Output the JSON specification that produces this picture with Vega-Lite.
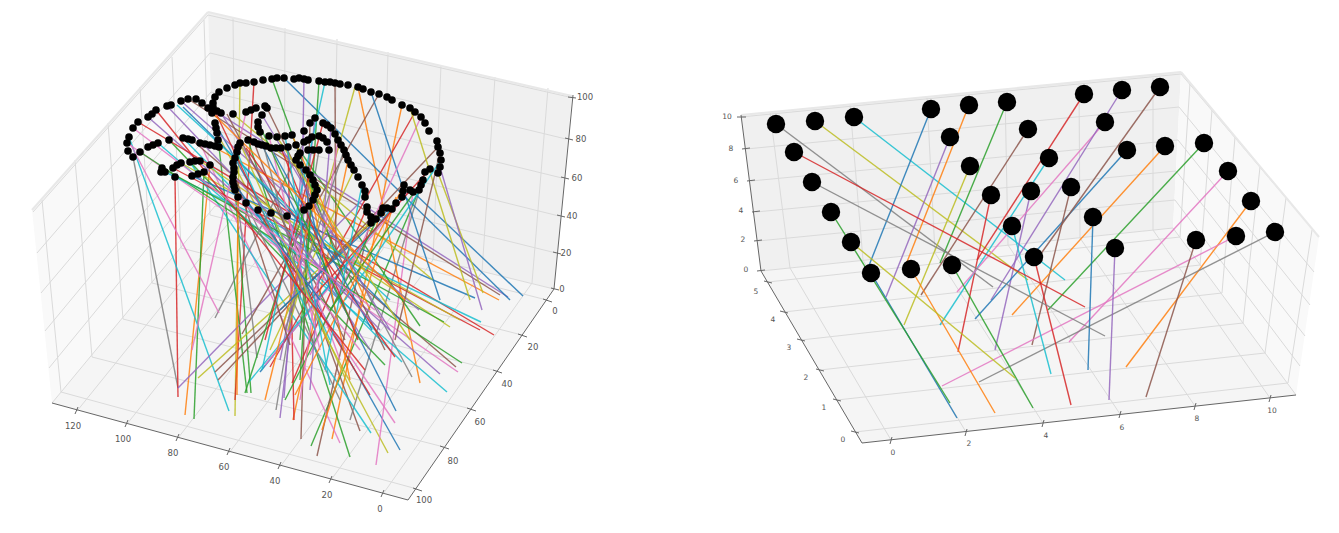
{"$schema":"https://vega.github.io/schema/vega-lite/v6.json","width":1339,"height":533,"autosize":{"type":"fit","contains":"padding"},"padding":0,"background":"white","config":{"view":{"stroke":null}},
"datasets":{
"panes":[
{"p":"L1","s":"a","x":32,"y":210,"y2":210},{"p":"L1","s":"a","x":52,"y":187.5,"y2":403},{"p":"L1","s":"a","x":208,"y":12,"y2":214.5},{"p":"L1","s":"a","x":215,"y":206,"y2":206},
{"p":"L2","s":"b","x":208,"y":12,"y2":12},{"p":"L2","s":"b","x":215,"y":13.6,"y2":206},{"p":"L2","s":"b","x":554,"y":91.8,"y2":289},{"p":"L2","s":"b","x":572,"y":96,"y2":96},
{"p":"L3","s":"c","x":52,"y":403,"y2":403},{"p":"L3","s":"c","x":215,"y":206,"y2":447.4},{"p":"L3","s":"c","x":408,"y":253.2,"y2":500},{"p":"L3","s":"c","x":554,"y":289,"y2":289},
{"p":"R2","s":"b","x":741,"y":115,"y2":115},{"p":"R2","s":"b","x":761,"y":113,"y2":271},{"p":"R2","s":"b","x":1173,"y":72.8,"y2":228},{"p":"R2","s":"b","x":1181,"y":72,"y2":72},
{"p":"R3","s":"c","x":761,"y":271,"y2":271},{"p":"R3","s":"c","x":862,"y":260.5,"y2":443},{"p":"R3","s":"c","x":1173,"y":228,"y2":408.6},{"p":"R3","s":"c","x":1296,"y":395,"y2":395},
{"p":"R1","s":"a","x":1173,"y":228,"y2":228},{"p":"R1","s":"a","x":1181,"y":72,"y2":238.9},{"p":"R1","s":"a","x":1296,"y":209.5,"y2":395},{"p":"R1","s":"a","x":1319,"y":237,"y2":237}
],
"grid":[
{"x":208,"y":15,"xe":569,"ye":97},{"x":210,"y":53,"xe":566,"ye":139},{"x":211,"y":92,"xe":562,"ye":178},{"x":212,"y":130,"xe":559,"ye":216},{"x":213,"y":168,"xe":556,"ye":253},{"x":215,"y":206,"xe":554,"ye":289},
{"x":208,"y":15,"xe":33,"ye":212},{"x":210,"y":53,"xe":37,"ye":253},{"x":211,"y":92,"xe":41,"ye":293},{"x":212,"y":130,"xe":45,"ye":331},{"x":213,"y":168,"xe":49,"ye":368},{"x":215,"y":206,"xe":52,"ye":403},
{"x":42,"y":200,"xe":61,"ye":392},{"x":75,"y":160,"xe":92,"ye":357},{"x":108,"y":123,"xe":123,"ye":319},{"x":140,"y":87,"xe":152,"ye":283},{"x":172,"y":57,"xe":181,"ye":248},{"x":204,"y":20,"xe":210,"ye":215},
{"x":233,"y":17,"xe":235,"ye":215},{"x":285,"y":28,"xe":284,"ye":226},{"x":337,"y":39,"xe":333,"ye":238},{"x":388,"y":52,"xe":383,"ye":249},{"x":441,"y":65,"xe":433,"ye":260},{"x":495,"y":77,"xe":482,"ye":272},{"x":548,"y":88,"xe":532,"ye":283},
{"x":235,"y":215,"xe":77,"ye":411},{"x":284,"y":226,"xe":127,"ye":424},{"x":333,"y":238,"xe":178,"ye":438},{"x":383,"y":249,"xe":229,"ye":453},{"x":433,"y":260,"xe":280,"ye":467},{"x":482,"y":272,"xe":331,"ye":480},{"x":532,"y":283,"xe":383,"ye":494},
{"x":210,"y":215,"xe":547,"ye":300},{"x":181,"y":248,"xe":522,"ye":335},{"x":152,"y":283,"xe":497,"ye":371},{"x":123,"y":319,"xe":471,"ye":409},{"x":92,"y":357,"xe":444,"ye":447},{"x":61,"y":392,"xe":417,"ye":489},
{"x":741,"y":117,"xe":1181,"ye":74},{"x":746,"y":149,"xe":1179,"ye":107},{"x":751,"y":181,"xe":1178,"ye":140},{"x":756,"y":212,"xe":1176,"ye":171},{"x":758,"y":241,"xe":1175,"ye":200},{"x":761,"y":271,"xe":1173,"ye":228},
{"x":770,"y":112,"xe":790,"ye":268},{"x":850,"y":105,"xe":863,"ye":260},{"x":927,"y":98,"xe":935,"ye":253},{"x":1005,"y":92,"xe":1008,"ye":245},{"x":1079,"y":85,"xe":1080,"ye":238},{"x":1153,"y":78,"xe":1153,"ye":230},
{"x":790,"y":268,"xe":891,"ye":440},{"x":863,"y":260,"xe":966,"ye":432},{"x":935,"y":253,"xe":1043,"ye":423},{"x":1008,"y":245,"xe":1120,"ye":414},{"x":1080,"y":238,"xe":1195,"ye":406},{"x":1153,"y":230,"xe":1270,"ye":398},
{"x":855,"y":432,"xe":1288,"ye":383},{"x":837,"y":400,"xe":1265,"ye":353},{"x":820,"y":370,"xe":1243,"ye":323},{"x":801,"y":340,"xe":1222,"ye":293},{"x":784,"y":312,"xe":1200,"ye":265},{"x":768,"y":282,"xe":1180,"ye":237},
{"x":1288,"y":383,"xe":1312,"ye":230},{"x":1265,"y":353,"xe":1286,"ye":198},{"x":1243,"y":323,"xe":1260,"ye":167},{"x":1222,"y":293,"xe":1235,"ye":137},{"x":1200,"y":265,"xe":1212,"ye":110},{"x":1180,"y":237,"xe":1190,"ye":83},
{"x":1181,"y":74,"xe":1319,"ye":237},{"x":1179,"y":107,"xe":1314,"ye":272},{"x":1178,"y":140,"xe":1310,"ye":305},{"x":1176,"y":171,"xe":1305,"ye":336},{"x":1175,"y":200,"xe":1300,"ye":366},{"x":1173,"y":228,"xe":1296,"ye":395}
],
"edges":[{"x":208,"y":12,"xe":572,"ye":96},{"x":208,"y":12,"xe":32,"ye":210},{"x":741,"y":115,"xe":1181,"ye":72},{"x":1181,"y":72,"xe":1319,"ye":237}],
"axes":[
{"x":52,"y":403,"xe":408,"ye":500},{"x":408,"y":500,"xe":554,"ye":289},{"x":573,"y":95,"xe":554,"ye":289},
{"x":568,"y":97,"xe":576,"ye":98},{"x":565,"y":138,"xe":573,"ye":140},{"x":561,"y":177,"xe":569,"ye":179},{"x":557,"y":215,"xe":565,"ye":217},{"x":553,"y":252,"xe":561,"ye":254},{"x":551,"y":288,"xe":559,"ye":290},
{"x":78,"y":407,"xe":75,"ye":414},{"x":128,"y":420,"xe":125,"ye":427},{"x":179,"y":434,"xe":176,"ye":441},{"x":230,"y":448,"xe":227,"ye":455},{"x":281,"y":462,"xe":278,"ye":469},{"x":332,"y":476,"xe":329,"ye":483},{"x":384,"y":490,"xe":381,"ye":497},
{"x":543,"y":299,"xe":552,"ye":302},{"x":518,"y":334,"xe":527,"ye":337},{"x":493,"y":370,"xe":502,"ye":373},{"x":467,"y":408,"xe":476,"ye":411},{"x":440,"y":446,"xe":449,"ye":449},{"x":413,"y":488,"xe":422,"ye":491},
{"x":741,"y":115,"xe":761,"ye":271},{"x":761,"y":271,"xe":862,"ye":443},{"x":862,"y":443,"xe":1296,"ye":395},
{"x":737,"y":117,"xe":746,"ye":117},{"x":742,"y":149,"xe":750,"ye":148},{"x":747,"y":181,"xe":755,"ye":180},{"x":752,"y":212,"xe":760,"ye":211},{"x":754,"y":241,"xe":762,"ye":240},{"x":757,"y":271,"xe":765,"ye":270},
{"x":764,"y":281,"xe":772,"ye":283},{"x":780,"y":311,"xe":788,"ye":313},{"x":797,"y":339,"xe":805,"ye":341},{"x":816,"y":369,"xe":824,"ye":371},{"x":833,"y":399,"xe":841,"ye":401},{"x":851,"y":431,"xe":859,"ye":433},
{"x":892,"y":437,"xe":890,"ye":444},{"x":967,"y":429,"xe":965,"ye":436},{"x":1044,"y":420,"xe":1042,"ye":427},{"x":1121,"y":411,"xe":1119,"ye":418},{"x":1196,"y":403,"xe":1194,"ye":410},{"x":1271,"y":395,"xe":1269,"ye":402}
],
"labelsL":[{"x":585,"y":97,"t":"100"},{"x":581,"y":139,"t":"80"},{"x":577,"y":178,"t":"60"},{"x":572,"y":216,"t":"40"},{"x":566,"y":253,"t":"20"},{"x":562,"y":289,"t":"0"},{"x":555,"y":311,"t":"0"},{"x":533,"y":347,"t":"20"},{"x":507,"y":384,"t":"40"},{"x":480,"y":422,"t":"60"},{"x":453,"y":461,"t":"80"},{"x":424,"y":500,"t":"100"},{"x":73,"y":426,"t":"120"},{"x":123,"y":439,"t":"100"},{"x":173,"y":453,"t":"80"},{"x":224,"y":467,"t":"60"},{"x":275,"y":481,"t":"40"},{"x":327,"y":495,"t":"20"},{"x":380,"y":509,"t":"0"}],
"labelsR":[{"x":727,"y":117,"t":"10"},{"x":731,"y":149,"t":"8"},{"x":736,"y":181,"t":"6"},{"x":741,"y":211,"t":"4"},{"x":743,"y":240,"t":"2"},{"x":746,"y":270,"t":"0"},{"x":756,"y":292,"t":"5"},{"x":773,"y":320,"t":"4"},{"x":789,"y":348,"t":"3"},{"x":806,"y":378,"t":"2"},{"x":824,"y":408,"t":"1"},{"x":843,"y":440,"t":"0"},{"x":893,"y":453,"t":"0"},{"x":969,"y":444,"t":"2"},{"x":1046,"y":436,"t":"4"},{"x":1122,"y":428,"t":"6"},{"x":1197,"y":419,"t":"8"},{"x":1272,"y":411,"t":"10"}],
"lines":[
{"s":"C7","x":133,"y":157,"xe":178,"ye":388},{"s":"C3","x":175,"y":177,"xe":178,"ye":397},{"s":"C1","x":210,"y":165,"xe":185,"ye":415},{"s":"C2","x":204,"y":172,"xe":194,"ye":419},{"s":"C9","x":129,"y":137,"xe":229,"ye":411},{"s":"C8","x":240,"y":83,"xe":235,"ye":416},{"s":"C3","x":254,"y":82,"xe":235,"ye":400},{"s":"C2","x":219,"y":147,"xe":247,"ye":393},{"s":"C2","x":233,"y":163,"xe":251,"ye":393},{"s":"C7","x":319,"y":150,"xe":276,"ye":410},{"s":"C4","x":315,"y":118,"xe":280,"ye":418},{"s":"C1","x":348,"y":160,"xe":293,"ye":420},{"s":"C3","x":288,"y":147,"xe":294,"ye":420},{"s":"C4","x":304,"y":131,"xe":284,"ye":398},{"s":"C5","x":310,"y":123,"xe":301,"ye":439},{"s":"C2","x":419,"y":190,"xe":311,"ye":446},{"s":"C5","x":371,"y":217,"xe":317,"ye":456},{"s":"C1","x":402,"y":105,"xe":332,"ye":439},{"s":"C6","x":200,"y":143,"xe":340,"ye":443},{"s":"C2","x":248,"y":140,"xe":350,"ye":457},{"s":"C5","x":254,"y":142,"xe":360,"ye":431},{"s":"C7","x":425,"y":172,"xe":350,"ye":420},{"s":"C9","x":190,"y":162,"xe":371,"ye":433},{"s":"C8","x":217,"y":133,"xe":388,"ye":453},{"s":"C0","x":215,"y":123,"xe":400,"ye":450},{"s":"C6","x":413,"y":192,"xe":376,"ye":465},{"s":"C6","x":233,"y":182,"xe":395,"ye":423},{"s":"C0","x":262,"y":145,"xe":396,"ye":411},{"s":"C1","x":358,"y":87,"xe":420,"ye":383},{"s":"C7","x":296,"y":160,"xe":412,"ye":377},{"s":"C9","x":158,"y":143,"xe":447,"ye":392},{"s":"C6","x":127,"y":143,"xe":458,"ye":372},{"s":"C4","x":148,"y":117,"xe":440,"ye":374},{"s":"C5","x":192,"y":140,"xe":456,"ye":367},{"s":"C2","x":140,"y":152,"xe":462,"ye":363},{"s":"C9","x":183,"y":138,"xe":402,"ye":362},{"s":"C2","x":169,"y":140,"xe":385,"ye":365},{"s":"C3","x":138,"y":122,"xe":494,"ye":335},{"s":"C3","x":173,"y":168,"xe":480,"ye":330},{"s":"C9","x":165,"y":172,"xe":481,"ye":322},{"s":"C8","x":181,"y":163,"xe":460,"ye":320},{"s":"C8","x":200,"y":161,"xe":450,"ye":327},{"s":"C2","x":162,"y":168,"xe":444,"ye":322},{"s":"C2","x":296,"y":145,"xe":420,"ye":326},{"s":"C4","x":181,"y":101,"xe":419,"ye":310},{"s":"C0","x":192,"y":176,"xe":475,"ye":298},{"s":"C1","x":210,"y":145,"xe":499,"ye":300},{"s":"C4","x":196,"y":99,"xe":508,"ye":297},{"s":"C5","x":188,"y":99,"xe":500,"ye":295},{"s":"C0","x":413,"y":192,"xe":523,"ye":296},{"s":"C0","x":284,"y":78,"xe":510,"ye":300},{"s":"C8","x":438,"y":173,"xe":483,"ye":293},{"s":"C8","x":233,"y":114,"xe":433,"ye":280},{"s":"C5","x":371,"y":223,"xe":215,"ye":372},{"s":"C4","x":365,"y":197,"xe":178,"ye":388},{"s":"C0","x":396,"y":203,"xe":260,"ye":372},{"s":"C9","x":392,"y":209,"xe":248,"ye":383},{"s":"C8","x":381,"y":213,"xe":198,"ye":378},{"s":"C6","x":246,"y":112,"xe":192,"ye":350},{"s":"C7","x":304,"y":142,"xe":215,"ye":318},{"s":"C6","x":131,"y":145,"xe":219,"ye":313},{"s":"C5","x":379,"y":94,"xe":242,"ye":334},{"s":"C7","x":234,"y":172,"xe":257,"ye":358},{"s":"C6","x":410,"y":190,"xe":265,"ye":365},{"s":"C3","x":367,"y":207,"xe":292,"ye":383},{"s":"C5","x":267,"y":108,"xe":385,"ye":350},{"s":"C3","x":246,"y":148,"xe":395,"ye":357},{"s":"C3","x":415,"y":112,"xe":270,"ye":367},{"s":"C5","x":438,"y":147,"xe":218,"ye":380},{"s":"C4","x":440,"y":167,"xe":482,"ye":310},{"s":"C8","x":355,"y":87,"xe":288,"ye":330},{"s":"C0","x":371,"y":92,"xe":440,"ye":300},{"s":"C6","x":421,"y":117,"xe":310,"ye":355},{"s":"C8","x":410,"y":108,"xe":470,"ye":300},{"s":"C2","x":272,"y":79,"xe":345,"ye":280},{"s":"C4","x":304,"y":79,"xe":300,"ye":300},{"s":"C2","x":319,"y":81,"xe":300,"ye":380},{"s":"C9","x":325,"y":82,"xe":262,"ye":370},{"s":"C5","x":335,"y":83,"xe":336,"ye":260},{"s":"C1","x":238,"y":197,"xe":237,"ye":395},{"s":"C4","x":221,"y":113,"xe":370,"ye":350},{"s":"C5","x":227,"y":114,"xe":345,"ye":340},{"s":"C0","x":183,"y":107,"xe":400,"ye":320},{"s":"C9","x":177,"y":105,"xe":390,"ye":300},{"s":"C3","x":258,"y":210,"xe":370,"ye":395},{"s":"C9","x":271,"y":213,"xe":330,"ye":340},{"s":"C2","x":304,"y":210,"xe":245,"ye":393},{"s":"C4","x":313,"y":200,"xe":280,"ye":360},{"s":"C1","x":317,"y":190,"xe":265,"ye":400},{"s":"C7","x":246,"y":203,"xe":340,"ye":400},{"s":"C6","x":287,"y":216,"xe":340,"ye":360},{"s":"C2","x":383,"y":208,"xe":285,"ye":400},{"s":"C1","x":396,"y":197,"xe":322,"ye":430},
{"s":"C0","x":300,"y":165,"xe":340,"ye":330},{"s":"C1","x":306,"y":170,"xe":350,"ye":380},{"s":"C2","x":313,"y":180,"xe":300,"ye":340},{"s":"C3","x":323,"y":123,"xe":265,"ye":340},{"s":"C4","x":331,"y":128,"xe":310,"ye":390},{"s":"C6","x":338,"y":140,"xe":300,"ye":400},{"s":"C7","x":344,"y":150,"xe":285,"ye":330},{"s":"C8","x":354,"y":170,"xe":270,"ye":350},{"s":"C9","x":362,"y":185,"xe":325,"ye":370},{"s":"C0","x":402,"y":197,"xe":280,"ye":310},{"s":"C1","x":404,"y":185,"xe":295,"ye":395},{"s":"C2","x":423,"y":180,"xe":330,"ye":310},{"s":"C3","x":430,"y":169,"xe":310,"ye":300},{"s":"C5","x":440,"y":153,"xe":395,"ye":340},{"s":"C9","x":441,"y":160,"xe":345,"ye":300},{"s":"C0","x":271,"y":148,"xe":372,"ye":330},{"s":"C3","x":281,"y":148,"xe":358,"ye":340},{"s":"C8","x":277,"y":137,"xe":410,"ye":340},{"s":"C9","x":285,"y":136,"xe":330,"ye":385},{"s":"C1","x":292,"y":135,"xe":370,"ye":310},{"s":"C6","x":269,"y":136,"xe":320,"ye":350},{"s":"C4","x":262,"y":115,"xe":390,"ye":330},{"s":"C2","x":258,"y":122,"xe":350,"ye":320},{"s":"C7","x":260,"y":132,"xe":310,"ye":320},{"s":"C3","x":213,"y":107,"xe":300,"ye":290},{"s":"C9","x":237,"y":152,"xe":315,"ye":330},{"s":"C5","x":234,"y":172,"xe":290,"ye":345},{"s":"C6","x":235,"y":190,"xe":360,"ye":350},{"s":"C0","x":233,"y":182,"xe":320,"ye":300},{"s":"C8","x":240,"y":143,"xe":355,"ye":400},{"s":"C3","x":156,"y":110,"xe":365,"ye":370},{"s":"C4","x":167,"y":106,"xe":380,"ye":330},{"s":"C1","x":202,"y":103,"xe":405,"ye":300},{"s":"C6","x":133,"y":128,"xe":375,"ye":310},
{"s":"C7","x":776,"y":124,"xe":993,"ye":287},{"s":"C8","x":815,"y":121,"xe":1028,"ye":280},{"s":"C9","x":854,"y":117,"xe":1065,"ye":280},{"s":"C0","x":931,"y":109,"xe":868,"ye":268},{"s":"C1","x":969,"y":105,"xe":905,"ye":267},{"s":"C4","x":950,"y":137,"xe":886,"ye":297},{"s":"C2","x":1007,"y":102,"xe":940,"ye":263},{"s":"C8","x":970,"y":166,"xe":904,"ye":325},{"s":"C3","x":1084,"y":94,"xe":977,"ye":260},{"s":"C3","x":991,"y":195,"xe":958,"ye":352},{"s":"C9","x":1049,"y":158,"xe":940,"ye":325},{"s":"C4","x":1031,"y":191,"xe":995,"ye":350},{"s":"C5","x":1028,"y":129,"xe":921,"ye":295},{"s":"C6","x":1105,"y":122,"xe":957,"ye":292},{"s":"C4","x":1122,"y":90,"xe":991,"ye":300},{"s":"C0","x":1127,"y":150,"xe":975,"ye":319},{"s":"C5","x":1160,"y":87,"xe":1040,"ye":255},{"s":"C5","x":1071,"y":187,"xe":1032,"ye":345},{"s":"C1","x":1165,"y":146,"xe":1012,"ye":315},{"s":"C2","x":1204,"y":143,"xe":1048,"ye":310},{"s":"C6","x":1228,"y":171,"xe":1069,"ye":342},{"s":"C1","x":1251,"y":201,"xe":1126,"ye":367},{"s":"C7","x":1275,"y":232,"xe":979,"ye":382},{"s":"C6","x":1236,"y":236,"xe":942,"ye":386},{"s":"C5","x":1196,"y":240,"xe":1146,"ye":397},{"s":"C4","x":1115,"y":248,"xe":1109,"ye":400},{"s":"C0","x":1093,"y":217,"xe":1088,"ye":370},{"s":"C3","x":1034,"y":257,"xe":1071,"ye":405},{"s":"C9","x":1012,"y":226,"xe":1051,"ye":374},{"s":"C2","x":952,"y":265,"xe":1033,"ye":408},{"s":"C1","x":911,"y":269,"xe":995,"ye":413},{"s":"C0","x":871,"y":273,"xe":957,"ye":418},{"s":"C8","x":851,"y":242,"xe":1015,"ye":378},{"s":"C2","x":831,"y":212,"xe":950,"ye":403},{"s":"C3","x":794,"y":152,"xe":1085,"ye":307},{"s":"C7","x":812,"y":182,"xe":1105,"ye":336}
],
"ptsL":[{"x":213,"y":103},{"x":215,"y":97},{"x":219,"y":92},{"x":227,"y":88},{"x":235,"y":85},{"x":240,"y":83},{"x":246,"y":83},{"x":254,"y":82},{"x":263,"y":80},{"x":272,"y":79},{"x":277,"y":78},{"x":284,"y":78},{"x":294,"y":79},{"x":299,"y":78},{"x":304,"y":79},{"x":308,"y":80},{"x":319,"y":81},{"x":325,"y":82},{"x":330,"y":82},{"x":335,"y":83},{"x":340,"y":84},{"x":348,"y":85},{"x":358,"y":87},{"x":363,"y":89},{"x":371,"y":92},{"x":379,"y":94},{"x":387,"y":97},{"x":392,"y":100},{"x":402,"y":105},{"x":410,"y":108},{"x":415,"y":112},{"x":421,"y":117},{"x":425,"y":123},{"x":429,"y":131},{"x":437,"y":141},{"x":438,"y":147},{"x":440,"y":153},{"x":441,"y":160},{"x":440,"y":167},{"x":438,"y":173},{"x":430,"y":169},{"x":425,"y":172},{"x":423,"y":180},{"x":421,"y":185},{"x":419,"y":190},{"x":413,"y":192},{"x":410,"y":190},{"x":404,"y":185},{"x":403,"y":191},{"x":402,"y":197},{"x":396,"y":203},{"x":392,"y":209},{"x":387,"y":208},{"x":383,"y":208},{"x":381,"y":213},{"x":376,"y":219},{"x":371,"y":223},{"x":371,"y":217},{"x":367,"y":212},{"x":367,"y":207},{"x":365,"y":197},{"x":365,"y":191},{"x":362,"y":185},{"x":358,"y":177},{"x":354,"y":170},{"x":351,"y":165},{"x":348,"y":160},{"x":346,"y":155},{"x":344,"y":150},{"x":341,"y":145},{"x":338,"y":140},{"x":335,"y":134},{"x":331,"y":128},{"x":327,"y":125},{"x":323,"y":123},{"x":315,"y":118},{"x":310,"y":123},{"x":304,"y":131},{"x":292,"y":135},{"x":285,"y":136},{"x":277,"y":137},{"x":269,"y":136},{"x":213,"y":107},{"x":217,"y":111},{"x":221,"y":113},{"x":233,"y":114},{"x":246,"y":112},{"x":251,"y":110},{"x":256,"y":108},{"x":265,"y":106},{"x":267,"y":108},{"x":262,"y":115},{"x":258,"y":122},{"x":258,"y":127},{"x":260,"y":132},{"x":212,"y":113},{"x":215,"y":123},{"x":216,"y":128},{"x":217,"y":133},{"x":218,"y":140},{"x":219,"y":147},{"x":215,"y":146},{"x":210,"y":145},{"x":205,"y":144},{"x":200,"y":143},{"x":192,"y":140},{"x":188,"y":139},{"x":183,"y":138},{"x":169,"y":140},{"x":158,"y":143},{"x":153,"y":145},{"x":148,"y":147},{"x":140,"y":152},{"x":133,"y":157},{"x":128,"y":151},{"x":127,"y":143},{"x":129,"y":137},{"x":133,"y":128},{"x":138,"y":122},{"x":148,"y":117},{"x":152,"y":114},{"x":156,"y":110},{"x":167,"y":106},{"x":171,"y":105},{"x":181,"y":101},{"x":188,"y":99},{"x":196,"y":99},{"x":202,"y":103},{"x":208,"y":108},{"x":162,"y":168},{"x":165,"y":172},{"x":161,"y":172},{"x":175,"y":177},{"x":173,"y":168},{"x":177,"y":165},{"x":181,"y":163},{"x":190,"y":162},{"x":195,"y":161},{"x":200,"y":161},{"x":210,"y":165},{"x":204,"y":172},{"x":198,"y":174},{"x":192,"y":176},{"x":327,"y":142},{"x":323,"y":138},{"x":319,"y":136},{"x":312,"y":137},{"x":308,"y":140},{"x":304,"y":142},{"x":296,"y":145},{"x":288,"y":147},{"x":281,"y":148},{"x":276,"y":148},{"x":271,"y":148},{"x":266,"y":146},{"x":262,"y":145},{"x":258,"y":144},{"x":254,"y":142},{"x":248,"y":140},{"x":240,"y":143},{"x":238,"y":147},{"x":237,"y":152},{"x":235,"y":158},{"x":233,"y":163},{"x":234,"y":168},{"x":234,"y":172},{"x":233,"y":177},{"x":233,"y":182},{"x":234,"y":186},{"x":235,"y":190},{"x":238,"y":197},{"x":246,"y":203},{"x":258,"y":210},{"x":271,"y":213},{"x":287,"y":216},{"x":304,"y":210},{"x":309,"y":206},{"x":313,"y":200},{"x":315,"y":195},{"x":317,"y":190},{"x":315,"y":185},{"x":313,"y":180},{"x":310,"y":175},{"x":306,"y":170},{"x":300,"y":165},{"x":296,"y":160},{"x":298,"y":156},{"x":300,"y":153},{"x":308,"y":150},{"x":313,"y":150},{"x":319,"y":150},{"x":329,"y":150}],
"ptsR":[{"x":776,"y":124},{"x":815,"y":121},{"x":854,"y":117},{"x":931,"y":109},{"x":969,"y":105},{"x":1007,"y":102},{"x":1084,"y":94},{"x":1122,"y":90},{"x":1160,"y":87},{"x":794,"y":152},{"x":812,"y":182},{"x":831,"y":212},{"x":851,"y":242},{"x":871,"y":273},{"x":911,"y":269},{"x":952,"y":265},{"x":1034,"y":257},{"x":1115,"y":248},{"x":1196,"y":240},{"x":1236,"y":236},{"x":1275,"y":232},{"x":1204,"y":143},{"x":1228,"y":171},{"x":1251,"y":201},{"x":950,"y":137},{"x":970,"y":166},{"x":991,"y":195},{"x":1012,"y":226},{"x":1028,"y":129},{"x":1049,"y":158},{"x":1071,"y":187},{"x":1093,"y":217},{"x":1031,"y":191},{"x":1105,"y":122},{"x":1127,"y":150},{"x":1165,"y":146}]
},
"layer":[
{"data":{"name":"panes"},"mark":{"type":"area","interpolate":"linear"},"encoding":{"x":{"field":"x","type":"quantitative","scale":{"domain":[0,1339],"nice":false,"zero":false},"axis":null},"y":{"field":"y","type":"quantitative","scale":{"domain":[533,0],"nice":false,"zero":false},"axis":null},"y2":{"field":"y2"},"detail":{"field":"p"},"color":{"field":"s","type":"nominal","scale":{"domain":["a","b","c"],"range":["#f9f9f9","#f0f0f0","#f5f5f5"]},"legend":null}}},
{"data":{"name":"grid"},"mark":{"type":"rule","stroke":"#dadada","strokeWidth":1},"encoding":{"x":{"field":"x","type":"quantitative"},"y":{"field":"y","type":"quantitative"},"x2":{"field":"xe"},"y2":{"field":"ye"}}},
{"data":{"name":"edges"},"mark":{"type":"rule","stroke":"#e8e8e8","strokeWidth":2},"encoding":{"x":{"field":"x","type":"quantitative"},"y":{"field":"y","type":"quantitative"},"x2":{"field":"xe"},"y2":{"field":"ye"}}},
{"data":{"name":"axes"},"mark":{"type":"rule","stroke":"#666666","strokeWidth":1},"encoding":{"x":{"field":"x","type":"quantitative"},"y":{"field":"y","type":"quantitative"},"x2":{"field":"xe"},"y2":{"field":"ye"}}},
{"data":{"name":"lines"},"mark":{"type":"rule","strokeWidth":1.4,"opacity":0.85},"encoding":{"x":{"field":"x","type":"quantitative"},"y":{"field":"y","type":"quantitative"},"x2":{"field":"xe"},"y2":{"field":"ye"},"stroke":{"field":"s","type":"nominal","scale":{"domain":["C0","C1","C2","C3","C4","C5","C6","C7","C8","C9"],"range":["#1f77b4","#ff7f0e","#2ca02c","#d62728","#9467bd","#8c564b","#e377c2","#7f7f7f","#bcbd22","#17becf"]},"legend":null}}},
{"data":{"name":"ptsL"},"mark":{"type":"circle","color":"black","opacity":1,"size":58},"encoding":{"x":{"field":"x","type":"quantitative"},"y":{"field":"y","type":"quantitative"}}},
{"data":{"name":"ptsR"},"mark":{"type":"circle","color":"black","opacity":1,"size":340},"encoding":{"x":{"field":"x","type":"quantitative"},"y":{"field":"y","type":"quantitative"}}},
{"data":{"name":"labelsL"},"mark":{"type":"text","font":"DejaVu Sans","fontSize":8.5,"fill":"#555555","align":"center","baseline":"middle"},"encoding":{"x":{"field":"x","type":"quantitative"},"y":{"field":"y","type":"quantitative"},"text":{"field":"t","type":"nominal"}}},
{"data":{"name":"labelsR"},"mark":{"type":"text","font":"DejaVu Sans","fontSize":7.5,"fill":"#555555","align":"center","baseline":"middle"},"encoding":{"x":{"field":"x","type":"quantitative"},"y":{"field":"y","type":"quantitative"},"text":{"field":"t","type":"nominal"}}}
],
"resolve":{"scale":{"color":"independent","stroke":"independent"}}
}
